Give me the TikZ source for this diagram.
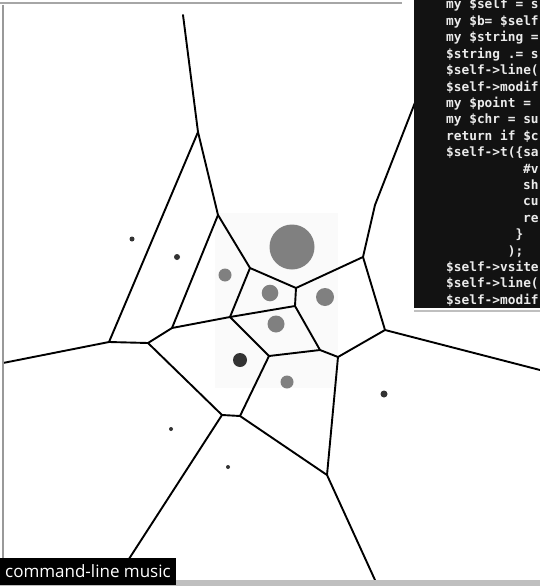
\documentclass[tikz,border=0pt]{standalone}
\usepackage{fontspec}
\setsansfont{Open Sans}
\setmonofont{DejaVu Sans Mono}

\begin{document}
\begin{tikzpicture}[x=1pt, y=-1pt,
	edge/.style={line width=1.9pt, line cap=round, line join=round},
	site/.style={fill=black!50},
	darksite/.style={fill=black!80},
	codeline/.style={anchor=base west, inner sep=0pt, text=black!8, font=\ttfamily\bfseries\fontsize{12.8}{15}\selectfont},
	caption/.style={anchor=south west, fill=black, text=white, inner xsep=5pt, minimum height=27pt, font=\sffamily\fontsize{17}{20}\selectfont}]
	\useasboundingbox (0,0) rectangle (540,586);
	\fill[white] (0,0) rectangle (540,586);
	\fill[black!2] (215,213) rectangle (338,388);
	% sites
	\fill[site] (292,247) circle (22.5);
	\fill[site] (225,275) circle (6.5);
	\fill[site] (270,293) circle (8.3);
	\fill[site] (325,297) circle (9);
	\fill[site] (276,324) circle (8.5);
	\fill[site] (287,382) circle (6.5);
	\fill[darksite] (240,360) circle (7);
	\fill[darksite] (177,257) circle (3);
	\fill[darksite] (132,239) circle (2.5);
	\fill[darksite] (384,394) circle (3.5);
	\fill[darksite] (228,467) circle (2);
	\fill[darksite] (171,429) circle (2);
	% cell vertices
	\coordinate (t0) at (183,15);
	\coordinate (v1) at (198,132);
	\coordinate (v2) at (218,215);
	\coordinate (v3) at (250,268);
	\coordinate (v4) at (296,288);
	\coordinate (v5) at (363,257);
	\coordinate (v6) at (295,306);
	\coordinate (v7) at (230,317);
	\coordinate (v8) at (172,328);
	\coordinate (v9) at (109,342);
	\coordinate (v10) at (148,343);
	\coordinate (v11) at (269,356);
	\coordinate (v12) at (320,350);
	\coordinate (v13) at (338,357);
	\coordinate (v14) at (385,330);
	\coordinate (v15) at (240,416);
	\coordinate (v16) at (222,415);
	\coordinate (v17) at (327,475);
	\coordinate (kink) at (375,205);
	\coordinate (c0) at (416,100);
	\coordinate (l0) at (3,363);
	\coordinate (b0) at (127,562);
	\coordinate (b1) at (375,580);
	\coordinate (r0) at (540,370);
	% cell edges
	\draw[edge] (t0) -- (v1) -- (v2) -- (v3) -- (v4) -- (v5) -- (kink) -- (c0);
	\draw[edge] (v1) -- (v9) -- (l0);
	\draw[edge] (v9) -- (v10) -- (v8) -- (v2);
	\draw[edge] (v8) -- (v7) -- (v3);
	\draw[edge] (v7) -- (v6) -- (v4);
	\draw[edge] (v7) -- (v11) -- (v12) -- (v6);
	\draw[edge] (v12) -- (v13) -- (v14) -- (v5);
	\draw[edge] (v14) -- (r0);
	\draw[edge] (v10) -- (v16) -- (b0);
	\draw[edge] (v16) -- (v15) -- (v11);
	\draw[edge] (v15) -- (v17) -- (v13);
	\draw[edge] (v17) -- (b1);
	% code window
	\draw[black!25, line width=1.2pt] (414,311) -- (540,311);
	\fill[black!93] (414,0) rectangle (540,308);
	\foreach \dx/\txt [count=\i] in {
		0/{my \$self = s},
		0/{my \$b= \$self},
		0/{my \$string =},
		0/{\$string .= s},
		0/{\$self->line(},
		0/{\$self->modif},
		0/{my \$point =},
		0/{my \$chr = su},
		0/{return if \$c},
		0/{\$self->t(\{sa},
		10/{\#v},
		10/{sh},
		10/{cu},
		10/{re},
		9/{\}},
		8/{);},
		0/{\$self->vsite},
		0/{\$self->line(},
		0/{\$self->modif}}
		\node[codeline] (code\i) at (446+7.7*\dx, 9+16.4*\i-16.4) {\txt};
	% frame
	\draw[black!35, line width=1.2pt] (0,3) -- (402,3);
	\draw[black!40, line width=1.5pt] (3,5) -- (3,580);
	\fill[black!25] (0,580) rectangle (540,586);
	\node[caption] (title) at (0,585) {command-line music};
\end{tikzpicture}
\end{document}
